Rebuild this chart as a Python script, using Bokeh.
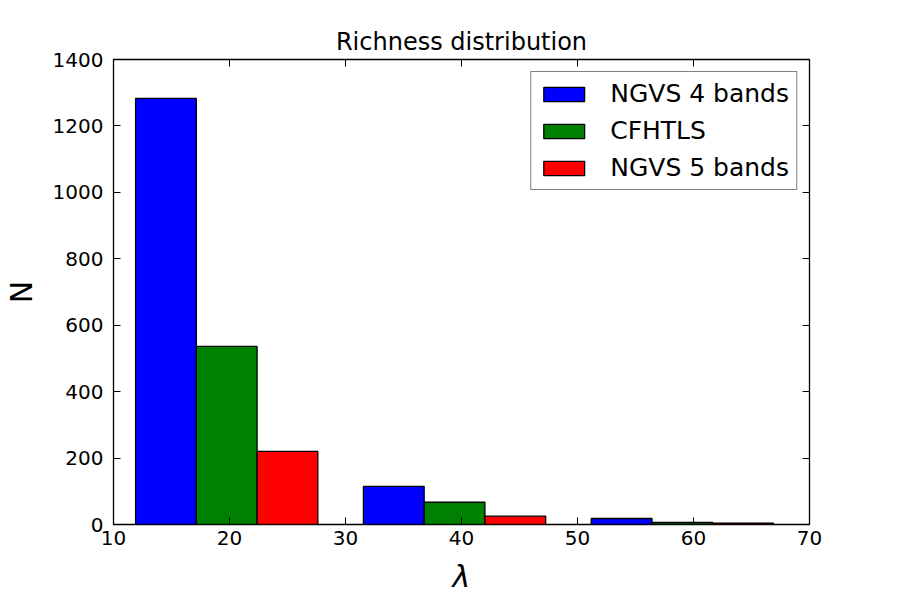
from bokeh.plotting import figure
from bokeh.models import LinearAxis, Legend, LegendItem, Range1d, FixedTicker
from bokeh.embed import file_html
from bokeh.resources import INLINE

# Histogram data
bin_edges = [9.94, 29.58, 49.22, 68.86]
series_names = ["NGVS 4 bands", "CFHTLS", "NGVS 5 bands"]
series_colors = ["#0000ff", "#008000", "#ff0000"]
ngvs4_counts = [1283, 115, 18]
cfhtls_counts = [536, 67, 6]
ngvs5_counts = [220, 25, 4]
x_ticks = [10, 20, 30, 40, 50, 60, 70]
y_ticks = [0, 200, 400, 600, 800, 1000, 1200, 1400]

counts = [ngvs4_counts, cfhtls_counts, ngvs5_counts]

FONT = "DejaVu Sans"

p = figure(width=900, height=600, output_backend="svg", toolbar_location=None,
           x_range=Range1d(10, 70), y_range=Range1d(0, 1400),
           title="Richness distribution",
           min_border_left=113, min_border_right=91, min_border_top=59, min_border_bottom=76)

p.title.align = "center"
p.title.text_font = FONT
p.title.text_font_size = "24px"
p.title.text_font_style = "normal"
p.title.text_color = "black"
p.title.standoff = 7

p.xgrid.visible = False
p.ygrid.visible = False
p.outline_line_color = "black"
p.outline_line_width = 1.3
p.background_fill_color = "white"
p.border_fill_color = "white"

# matplotlib-style grouped histogram geometry (bars fill the central 80% of each bin)
nser = len(counts)
renderers = []
for k, (vals, color) in enumerate(zip(counts, series_colors)):
    xs = []
    for i in range(len(bin_edges) - 1):
        left, right = bin_edges[i], bin_edges[i + 1]
        tot = right - left
        w = 0.8 * tot / nser
        start = left + 0.1 * tot
        xs.append(start + w * k + w / 2)
    bw = 0.8 * (bin_edges[1] - bin_edges[0]) / nser
    r = p.vbar(x=xs, top=vals, bottom=0, width=bw, fill_color=color,
               line_color="black", line_width=1.3)
    renderers.append(r)

xa = p.xaxis[0]
ya = p.yaxis[0]
for ax, tk in ((xa, x_ticks), (ya, y_ticks)):
    ax.ticker = FixedTicker(ticks=tk)
    ax.major_tick_in = 7
    ax.major_tick_out = 0
    ax.minor_tick_in = 0
    ax.minor_tick_out = 0
    ax.axis_line_color = None
    ax.major_tick_line_color = "black"
    ax.major_label_text_font = FONT
    ax.major_label_text_font_size = "20px"
    ax.major_label_text_color = "black"
    ax.axis_label_text_font = FONT
    ax.axis_label_text_font_size = "30px"
    ax.axis_label_text_font_style = "normal"
    ax.axis_label_text_color = "black"

xa.major_label_standoff = 6
ya.major_label_standoff = 10
xa.axis_label = "λ"
xa.axis_label_text_font_style = "italic"
xa.axis_label_standoff = 11
ya.axis_label = "N"
ya.axis_label_standoff = 11

top_ax = LinearAxis(ticker=FixedTicker(ticks=x_ticks), major_tick_in=7, major_tick_out=0,
                    minor_tick_in=0, minor_tick_out=0, axis_line_color=None,
                    major_label_overrides={t: "" for t in x_ticks}, major_label_standoff=0)
right_ax = LinearAxis(ticker=FixedTicker(ticks=y_ticks), major_tick_in=7, major_tick_out=0,
                      minor_tick_in=0, minor_tick_out=0, axis_line_color=None,
                      major_label_overrides={t: "" for t in y_ticks}, major_label_standoff=0)
p.add_layout(top_ax, "above")
p.add_layout(right_ax, "right")

legend = Legend(items=[LegendItem(label=n, renderers=[r]) for n, r in zip(series_names, renderers)],
                location="top_right")
legend.label_text_font = FONT
legend.label_text_font_size = "25px"
legend.label_text_color = "black"
legend.label_height = 29
legend.glyph_width = 51
legend.glyph_height = 18
legend.label_standoff = 21
legend.spacing = 8
legend.padding = 7
legend.margin = 12
legend.border_line_color = "black"
legend.border_line_width = 1.5
legend.background_fill_alpha = 1
p.add_layout(legend, "center")

open("out.html", "w").write(file_html(p, INLINE))
